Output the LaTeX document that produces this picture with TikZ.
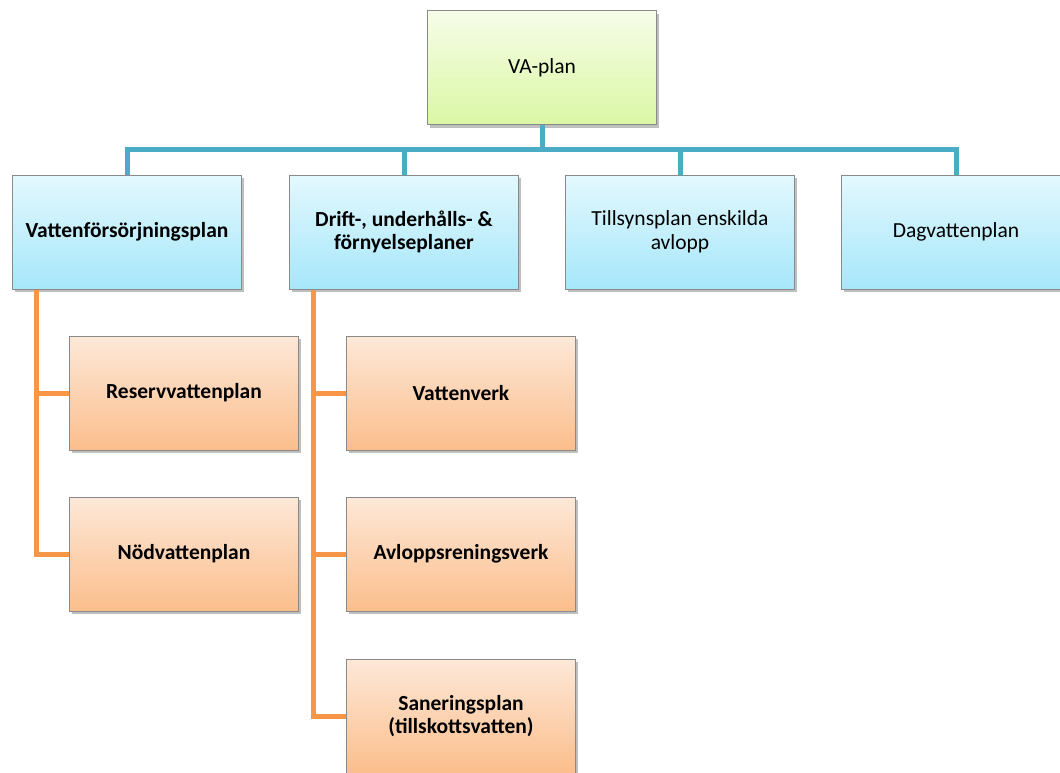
\documentclass[tikz,border=0pt]{standalone}
\usepackage{fontspec}
\setmainfont{Carlito}
\usepackage{tikz}
\usepackage{xcolor}
\usetikzlibrary{positioning,calc,shadows}
\definecolor{Frame}{HTML}{8A8A8A}
\definecolor{LineBlue}{HTML}{4BACC6}
\definecolor{LineOrange}{HTML}{F79646}
\definecolor{GreenTop}{HTML}{F6FDE8}
\definecolor{GreenBot}{HTML}{DAF7A4}
\definecolor{BlueTop}{HTML}{E3F8FD}
\definecolor{BlueBot}{HTML}{A6E7FA}
\definecolor{OrangeTop}{HTML}{FDE8D8}
\definecolor{OrangeBot}{HTML}{FBBE8C}

\begin{document}
\begin{tikzpicture}[x=1pt,y=-1pt,
  box/.style={draw=Frame,line width=1pt,minimum width=229pt,minimum height=114pt,align=center,font=\fontsize{21.5}{23.5}\selectfont,
    drop shadow={shadow xshift=2pt,shadow yshift=-3pt,opacity=.25,fill=black}},
  bgreen/.style={box,top color=GreenTop,bottom color=GreenBot},
  bblue/.style={box,top color=BlueTop,bottom color=BlueBot},
  borange/.style={box,top color=OrangeTop,bottom color=OrangeBot,font=\fontsize{21.5}{23.5}\selectfont\bfseries},
  bline/.style={draw=LineBlue,line width=5pt},
  oline/.style={draw=LineOrange,line width=5pt}
]
\useasboundingbox[fill=white] (0,0) rectangle (1060,773);
\node[bgreen] (va) at (542,68) {VA-plan};
\node[bblue,font=\fontsize{21.5}{23.5}\selectfont\bfseries] (vf) at (127,232) {Vattenförsörjningsplan};
\node[bblue,font=\fontsize{21.5}{23.5}\selectfont\bfseries] (du) at (404,232) {Drift-, underhålls- \&\\förnyelseplaner};
\node[bblue] (ts) at (680,232) {Tillsynsplan enskilda\\avlopp};
\node[bblue] (dv) at (956,232) {Dagvattenplan};
\node[borange] (rv) at (184,393) {Reservvattenplan};
\node[borange] (nv) at (184,554) {Nödvattenplan};
\node[borange] (vv) at (461,393) {Vattenverk};
\node[borange] (ar) at (461,554) {Avloppsreningsverk};
\node[borange] (sp) at (461,716) {Saneringsplan\\(tillskottsvatten)};
\coordinate (bus) at (542,150);
\draw[bline] (va.south) -- (bus);
\draw[bline] (bus) -| (vf.north);
\draw[bline] (bus) -| (du.north);
\draw[bline] (bus) -| (ts.north);
\draw[bline] (bus) -| (dv.north);
\coordinate (vfdrop) at ($(vf.south west)+(24,0)$);
\coordinate (dudrop) at ($(du.south west)+(24,0)$);
\draw[oline] (vfdrop) |- (rv.west);
\draw[oline] (vfdrop) |- (nv.west);
\draw[oline] (dudrop) |- (vv.west);
\draw[oline] (dudrop) |- (ar.west);
\draw[oline] (dudrop) |- (sp.west);
\end{tikzpicture}
\end{document}
